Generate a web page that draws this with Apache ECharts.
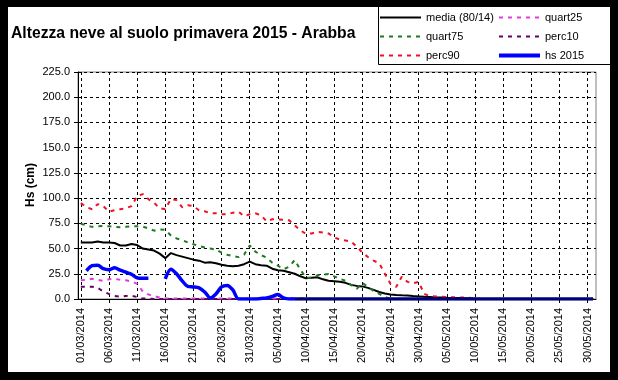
<!DOCTYPE html>
<html><head><meta charset="utf-8">
<script src="https://cdn.jsdelivr.net/npm/echarts@6/dist/echarts.min.js"></script>
<style>
html,body{margin:0;padding:0;background:#000;width:618px;height:380px;overflow:hidden;}
#c{position:absolute;left:8px;top:7px;width:602px;height:365px;background:#fff;}
</style>
</head><body><div id="c"></div>
<script>
const dates = [
"01/03/2014","02/03/2014","03/03/2014","04/03/2014","05/03/2014","06/03/2014","07/03/2014","08/03/2014","09/03/2014","10/03/2014",
"11/03/2014","12/03/2014","13/03/2014","14/03/2014","15/03/2014","16/03/2014","17/03/2014","18/03/2014","19/03/2014","20/03/2014",
"21/03/2014","22/03/2014","23/03/2014","24/03/2014","25/03/2014","26/03/2014","27/03/2014","28/03/2014","29/03/2014","30/03/2014",
"31/03/2014","01/04/2014","02/04/2014","03/04/2014","04/04/2014","05/04/2014","06/04/2014","07/04/2014","08/04/2014","09/04/2014",
"10/04/2014","11/04/2014","12/04/2014","13/04/2014","14/04/2014","15/04/2014","16/04/2014","17/04/2014","18/04/2014","19/04/2014",
"20/04/2014","21/04/2014","22/04/2014","23/04/2014","24/04/2014","25/04/2014","26/04/2014","27/04/2014","28/04/2014","29/04/2014",
"30/04/2014","01/05/2014","02/05/2014","03/05/2014","04/05/2014","05/05/2014","06/05/2014","07/05/2014","08/05/2014","09/05/2014",
"10/05/2014","11/05/2014","12/05/2014","13/05/2014","14/05/2014","15/05/2014","16/05/2014","17/05/2014","18/05/2014","19/05/2014",
"20/05/2014","21/05/2014","22/05/2014","23/05/2014","24/05/2014","25/05/2014","26/05/2014","27/05/2014","28/05/2014","29/05/2014",
"30/05/2014","31/05/2014"];

const media = [
56,56,56,57,56,56,55.5,53,53,54.5,
53.5,50,49,48,45,40.5,45.5,43.5,42,40.5,
39,38,36,36.5,35.5,34,33,32.5,33,34.5,
37,34.5,33.5,33,30,28.5,28,26.5,25,22.5,
20.5,21,21.5,19.5,18,17.5,17,16,14,13,
12.5,11,9,7,5.5,4.5,4,3.6,3.5,3,
2.6,2.2,2,1.5,1.5,1.2,1,1,0.8,0.5,
0.3,0,0,0,0,0,0,0,0,0,
0,0,0,0,0,0,0,0,0,0,
0,0];

const quart25 = [
18.5,19,20,19,18,19.5,20,19,18.5,17.5,
15,7.5,4.5,3,1.5,0.7,0.5,0.5,0.5,0.5,
0.5,0.5,0.5,0.5,0.5,0.5,0.5,0.5,0.5,0.5,
0.5,0.5,0.5,0.5,0.5,0.5,1,1,1,0.5,
0.5,0,0,0,0,0,0,0,0,0,
0,0,0,0,0,0,0,0,0,0,
0,0,0,0,0,0,0,0,0,0,
0,0,0,0,0,0,0,0,0,0,
0,0,0,0,0,0,0,0,0,0,
0,0];

const quart75 = [
74.5,73,71.5,72,72.3,72,71.5,71,71.5,72,
72,71.7,70,67.7,69,68.5,63,60,58.5,56,
54.3,52.5,51,50,49,46,43.8,42.5,41.5,44,
53,47,43.5,41,36,33,29.5,32,38.7,29,
21,21,23.5,24,24.8,22.5,20,18,14,10,
16,12,8,5,2.3,0,0,0,0,0,
0,0,0,0,0,0,0,0,0,0,
0,0,0,0,0,0,0,0,0,0,
0,0,0,0,0,0,0,0,0,0,
0,0];

const perc10 = [
12.2,12.2,12.2,11,7.5,5,3,2.3,3,3.3,
2,0.5,0.3,0,0,0,0,0,0,0,
0,0,0,0,0,0,0,0,0,0,
0,0,0,0,0,0,0,0,0,0,
0,0,0,0,0,0,0,0,0,0,
0,0,0,0,0,0,0,0,0,0,
0,0,0,0,0,0,0,0,0,0,
0,0,0,0,0,0,0,0,0,0,
0,0,0,0,0,0,0,0,0,0,
0,0];

const perc90 = [
95,91,89,94,92,86.5,88,89,90,92,
102,104,99,95.5,90,89,99,98,91,93,
92,88,87,85,85,84,84,85.5,86.5,82,
84,85,83,77,79,79,78.5,78,73,68,
64.5,65,66.5,66,65,61,59,58,56.8,52,
46,41.6,38,35.4,25,15,12,22,17,15.6,
17,5,3,2.5,2.3,2,1.8,1.5,1.4,1.3,
0.5,0,0,0,0,0,0,0,0,0,
0,0,0,0,0,0,0,0,0,0,
0,0];

const hs2015 = [
null,28,33,33.5,30,29,31,28.5,26.5,24.5,
21,20.5,20.5,null,null,20,29.5,25,18,12.5,
12,11,7,1,5,12,13.5,9,0,0,
0,0,0.5,1,2.5,4.5,1,0,0,0,
0,0,0,0,0,0,0,0,0,0,
0,0,0,0,0,0,0,0,0,0,
0,0,0,0,0,0,0,0,0,0,
0,0,0,0,0,0,0,0,0,0,
0,0,0,0,0,0,0,0,0,0,
0,0];

const yMin = 0, yMax = 225, yStep = 25;
const yTitle = 'Hs (cm)';
const FONT = 'Arial, "Liberation Sans", sans-serif';
const DASH = [4, 5];

const chart = echarts.init(document.getElementById('c'), null, {renderer: 'canvas'});

function dashed(name, data, color) {
  return {
    name: name, type: 'line', data: data, symbol: 'none',
    lineStyle: {color: color, width: 2, type: DASH},
    itemStyle: {color: color}
  };
}

const legendText = {fontFamily: FONT, fontSize: 11, color: '#000'};
const legendCommon = {
  orient: 'vertical', top: 5, padding: 0, itemGap: 8,
  itemWidth: 41, itemHeight: 10, z: 5,
  itemStyle: {opacity: 0, borderWidth: 0},
  textStyle: legendText
};

chart.setOption({
  animation: false,
  title: {
    text: 'Altezza neve al suolo primavera 2015 - Arabba',
    left: 3, top: 19, padding: 0,
    textStyle: {fontFamily: FONT, fontSize: 15.7, fontWeight: 'bold', color: '#000'}
  },
  graphic: [{
    type: 'rect', z: 0,
    shape: {x: 370.5, y: -0.5, width: 240, height: 58},
    style: {fill: '#fff', stroke: '#000', lineWidth: 1}
  }, {
    type: 'text', x: 23, y: 178, rotation: Math.PI / 2,
    style: {text: yTitle, fontFamily: FONT, fontSize: 12, fontWeight: 'bold', fill: '#000',
      align: 'center', verticalAlign: 'middle'}
  }],
  legend: [
    Object.assign({}, legendCommon, {left: 371, data: ['media (80/14)', 'quart75', 'perc90']}),
    Object.assign({}, legendCommon, {left: 489, data: ['quart25', 'perc10',
      {name: 'hs 2015', lineStyle: {width: 4, color: '#0000ff'}}]})
  ],
  visualMap: {
    show: false, type: 'piecewise', seriesIndex: 5, dimension: 0,
    pieces: [{gte: 0, lt: 37.5, color: '#0000ff'}, {gte: 37.5, lte: 91, color: '#00007a'}]
  },
  grid: {
    left: 70, top: 65, width: 518, height: 227,
    show: true, borderColor: '#808080', borderWidth: 1, backgroundColor: '#fff'
  },
  xAxis: {
    type: 'category', data: dates, boundaryGap: true,
    axisLine: {lineStyle: {color: '#000', width: 1}},
    axisTick: {show: true, interval: 4, alignWithLabel: true, length: 4, lineStyle: {color: '#000'}},
    axisLabel: {interval: 4, rotate: 90, margin: 9, fontFamily: FONT, fontSize: 11, color: '#000'},
    splitLine: {show: true, interval: 4, alignWithLabel: true, lineStyle: {color: '#000', type: [3, 3], width: 1}}
  },
  yAxis: {
    type: 'value', min: yMin, max: yMax, interval: yStep,
    axisLine: {show: true, lineStyle: {color: '#000'}},
    axisTick: {show: true, length: 4, lineStyle: {color: '#000'}},
    axisLabel: {margin: 8, fontFamily: FONT, fontSize: 11, color: '#000',
      formatter: v => v.toFixed(1)},
    splitLine: {show: true, lineStyle: {color: '#000', type: [3, 3], width: 1}}
  },
  series: [
    {name: 'media (80/14)', type: 'line', data: media, symbol: 'none',
      lineStyle: {color: '#000', width: 2}, itemStyle: {color: '#000'}},
    dashed('quart25', quart25, '#e03ce0'),
    dashed('quart75', quart75, '#1f7a1f'),
    dashed('perc10', perc10, '#660066'),
    dashed('perc90', perc90, '#ee1122'),
    {name: 'hs 2015', type: 'line', data: hs2015, symbol: 'none', smooth: 0.3,
      lineStyle: {width: 3.5}, itemStyle: {color: '#0000ff'}}
  ]
});
</script>
</body></html>
